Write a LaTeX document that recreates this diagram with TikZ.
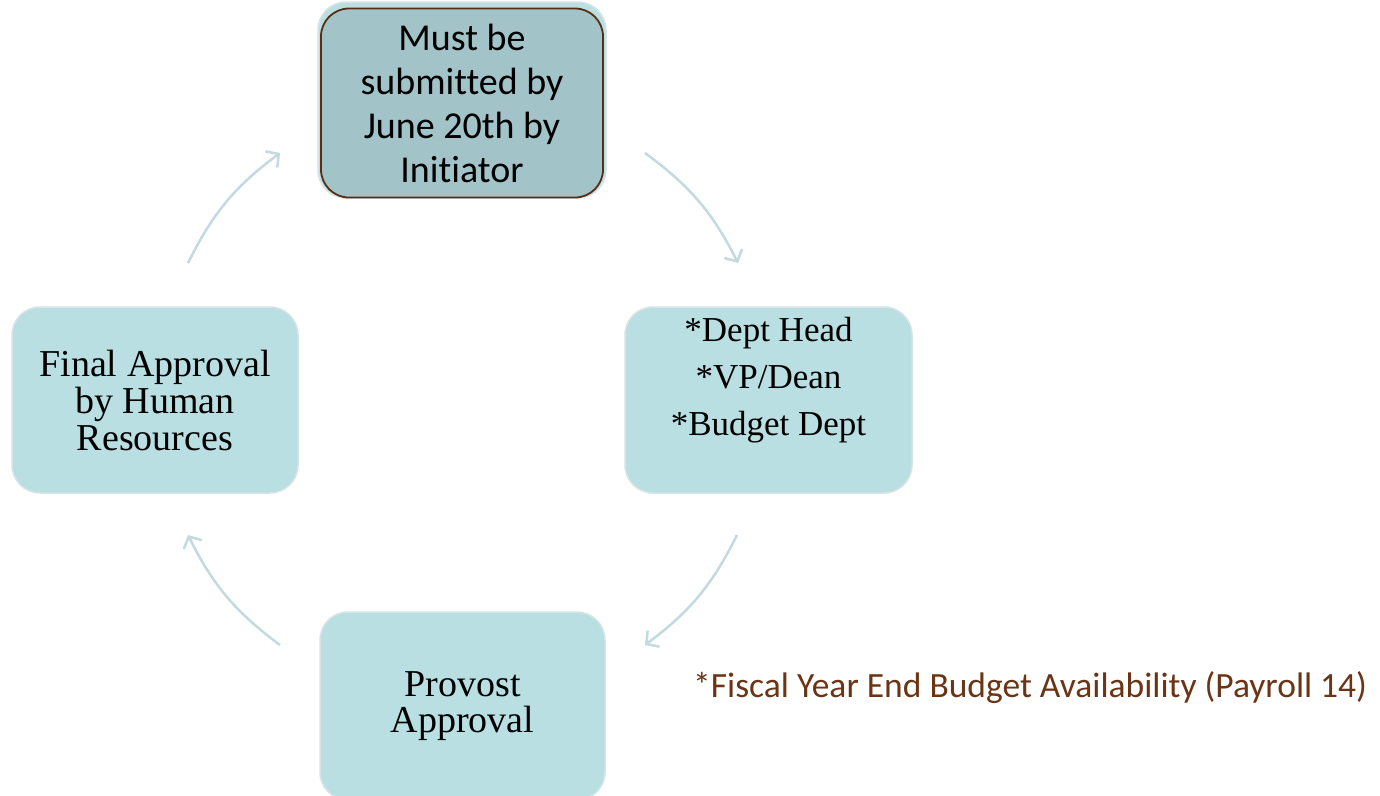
\documentclass[tikz,border=0pt]{standalone}
\usepackage{fontspec}
\setmainfont{Liberation Serif}
\newfontfamily\calib[Ligatures=NoCommon]{Carlito}
\usetikzlibrary{arrows.meta}
\definecolor{lightbox}{HTML}{B9DFE3}
\definecolor{darkbox}{HTML}{A2C4C9}
\definecolor{boxedge}{HTML}{D6E4E6}
\definecolor{brownedge}{HTML}{5A2E14}
\definecolor{arrowcol}{HTML}{C3DADE}
\definecolor{notecol}{HTML}{6B3415}
\begin{document}
\begin{tikzpicture}[x=1pt,y=1pt,
  box/.style={rectangle, rounded corners=28pt, draw=boxedge, line width=1.5pt,
    fill=lightbox, inner sep=0pt, align=center, text=black},
  serifsz/.style 2 args={font=\fontsize{#1}{#2}\selectfont},
  cyc/.style={draw=arrowcol, line width=2.5pt,
    -{Straight Barb[length=9pt,width=20pt,line width=2.5pt]}, bend left=13.5}
]
\useasboundingbox[fill=white] (0,0) rectangle (1380,-795);

% top box: light back shape and dark front box
\node[box, minimum width=288pt, minimum height=196pt] (topback) at (462,-100) {};
\node[box, fill=darkbox, draw=brownedge, line width=1.8pt,
  minimum width=282pt, minimum height=189pt,
  font=\calib\fontsize{38}{44}\selectfont] (top) at (462,-103)
  {Must be\\submitted by\\June 20th by\\Initiator};

\node[box, minimum width=287pt, minimum height=186pt, serifsz={35}{47}] (right) at (768.5,-400)
  {*Dept Head\\*VP/Dean\\*Budget Dept\\\mbox{}};

\node[box, minimum width=285pt, minimum height=188pt, serifsz={38}{36}] (bottom) at (462.5,-706)
  {Provost\\Approval};

\node[box, minimum width=286pt, minimum height=186pt, serifsz={38}{37}] (left) at (155,-400)
  {Final Approval\\by Human\\Resources};

% connector end points on a circle round the centre of the cycle
\coordinate (a1s) at (188,-263);
\coordinate (a1e) at (280,-153);
\coordinate (a2s) at (645,-153);
\coordinate (a2e) at (738,-263);
\coordinate (a3s) at (737,-535);
\coordinate (a3e) at (645,-645);
\coordinate (a4s) at (280,-645);
\coordinate (a4e) at (188,-535);

\draw[cyc] (a1s) to (a1e);
\draw[cyc] (a2s) to (a2e);
\draw[cyc] (a3s) to (a3e);
\draw[cyc] (a4s) to (a4e);

\node[anchor=west, inner sep=0pt, text=notecol,
  font=\calib\fontsize{35.5}{40}\selectfont] (note) at (693,-688)
  {*Fiscal Year End Budget Availability (Payroll 14)};
\end{tikzpicture}
\end{document}
